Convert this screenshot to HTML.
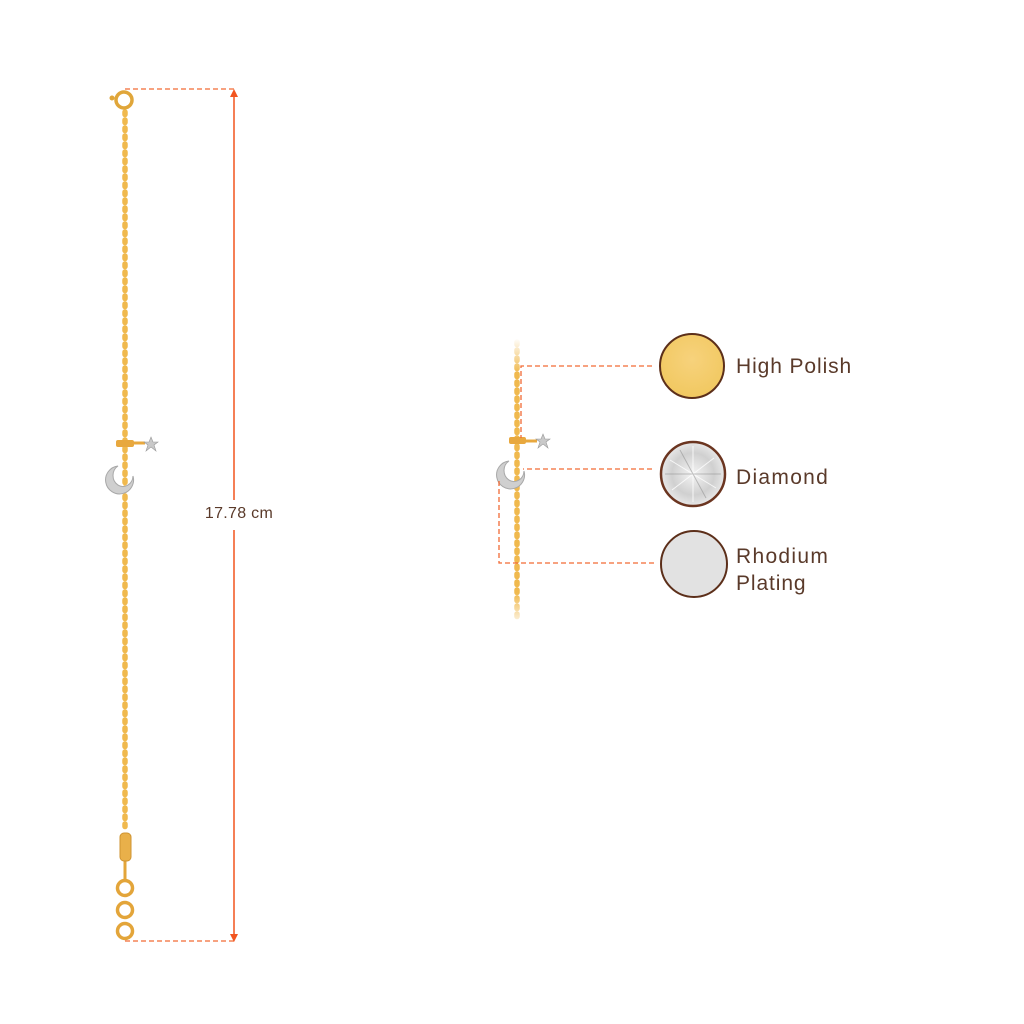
<!DOCTYPE html>
<html><head><meta charset="utf-8"><style>
html,body{margin:0;padding:0;background:#fff;}
svg{display:block;}
text{font-family:"Liberation Sans",sans-serif;}
</style></head><body>
<svg width="1024" height="1024" viewBox="0 0 1024 1024" xmlns="http://www.w3.org/2000/svg">
<defs>
<linearGradient id="fade" x1="0" y1="0" x2="0" y2="1">
<stop offset="0" stop-color="#fff" stop-opacity="1"/>
<stop offset="0.12" stop-color="#fff" stop-opacity="0"/>
<stop offset="0.88" stop-color="#fff" stop-opacity="0"/>
<stop offset="1" stop-color="#fff" stop-opacity="1"/>
</linearGradient>
<radialGradient id="gold" cx="0.5" cy="0.4" r="0.6"><stop offset="0" stop-color="#f7d27c"/><stop offset="1" stop-color="#f1c860"/></radialGradient>
<radialGradient id="dia" cx="0.5" cy="0.5" r="0.55"><stop offset="0" stop-color="#f4f4f4"/><stop offset="0.6" stop-color="#d0d0d0"/><stop offset="1" stop-color="#efefef"/></radialGradient>
</defs>

<!-- left chain -->
<line x1="125" y1="112" x2="125" y2="832" stroke="#f0b94e" stroke-width="5.5" stroke-dasharray="2.5 5.5" stroke-linecap="round"/>
<line x1="125" y1="861" x2="125" y2="882" stroke="#e3a53a" stroke-width="3"/>
<!-- clasp -->
<circle cx="124" cy="100" r="8" fill="none" stroke="#e0a63a" stroke-width="3.5"/>
<circle cx="112" cy="98" r="2.5" fill="#e0a63a"/>
<!-- charm left -->
<rect x="116" y="440" width="18" height="7" rx="2" fill="#e8a83e"/>
<line x1="134" y1="443" x2="145" y2="443" stroke="#e8a83e" stroke-width="3"/>
<polygon points="151,437 153,442 158,442 154,445 156,451 151,447 146,451 148,445 144,442 149,442" fill="#c9c9c9" stroke="#999" stroke-width="0.6"/>
<path d="M118 466 A14 14 0 1 0 133 476 A10 11 0 1 1 118 466 Z" fill="#cfcfcf" stroke="#a8a8a8" stroke-width="1"/>
<!-- bottom tag & rings -->
<rect x="120" y="833" width="11" height="28" rx="4" fill="#e9b04a" stroke="#cf9330"/>
<circle cx="125" cy="888" r="7.5" fill="none" stroke="#e3a53a" stroke-width="3.5"/>
<circle cx="125" cy="910" r="7.5" fill="none" stroke="#e3a53a" stroke-width="3.5"/>
<circle cx="125" cy="931" r="7.5" fill="none" stroke="#e3a53a" stroke-width="3.5"/>

<!-- dimension -->
<line x1="125" y1="89" x2="234" y2="89" stroke="#f26a35" stroke-width="1.3" stroke-dasharray="5 3"/>
<line x1="125" y1="941" x2="234" y2="941" stroke="#f26a35" stroke-width="1.3" stroke-dasharray="5 3"/>
<line x1="234" y1="92" x2="234" y2="500" stroke="#f2551f" stroke-width="1.5"/>
<line x1="234" y1="530" x2="234" y2="937" stroke="#f2551f" stroke-width="1.5"/>
<polygon points="234,89 230,97 238,97" fill="#f2551f"/>
<polygon points="234,942 230,934 238,934" fill="#f2551f"/>
<text x="239" y="518" font-size="16" fill="#5a3a2a" text-anchor="middle" letter-spacing="0.3">17.78 cm</text>

<!-- right chain -->
<line x1="517" y1="342" x2="517" y2="622" stroke="#f0b94e" stroke-width="5.5" stroke-dasharray="2.5 5.5" stroke-linecap="round"/>
<rect x="509" y="338" width="16" height="290" fill="url(#fade)"/>
<rect x="509" y="437" width="17" height="7" rx="2" fill="#e8a83e"/>
<line x1="526" y1="441" x2="537" y2="441" stroke="#e8a83e" stroke-width="3"/>
<polygon points="543,434 545,439 550,439 546,442 548,448 543,444 538,448 540,442 536,439 541,439" fill="#c9c9c9" stroke="#999" stroke-width="0.6"/>
<path d="M509 461 A14 14 0 1 0 524 471 A10 11 0 1 1 509 461 Z" fill="#cfcfcf" stroke="#a8a8a8" stroke-width="1"/>

<!-- leaders -->
<g stroke="#f26a35" stroke-width="1.3" stroke-dasharray="5 3" fill="none">
<polyline points="652,366 521,366 521,438"/>
<polyline points="652,469 523,469"/>
<polyline points="654,563 499,563 499,480"/>
</g>

<!-- swatches -->
<circle cx="692" cy="366" r="32" fill="url(#gold)" stroke="#5c2f1a" stroke-width="2"/>
<circle cx="693" cy="474" r="32" fill="url(#dia)" stroke="#6b3520" stroke-width="2.5"/>
<g stroke="#fff" stroke-width="1" opacity="0.8">
<line x1="670" y1="460" x2="716" y2="488"/><line x1="672" y1="490" x2="714" y2="458"/><line x1="693" y1="446" x2="693" y2="502"/>
</g>
<g stroke="#8a8a8a" stroke-width="1" opacity="0.5">
<line x1="665" y1="474" x2="721" y2="474"/><line x1="680" y1="450" x2="706" y2="498"/>
</g>
<circle cx="694" cy="564" r="33" fill="#e2e2e2" stroke="#5c2f1a" stroke-width="2"/>

<g font-size="21" fill="#5a3a2a" letter-spacing="0.9">
<text x="736" y="373">High Polish</text>
<text x="736" y="484" letter-spacing="1.3">Diamond</text>
<text x="736" y="563" letter-spacing="1.3">Rhodium</text>
<text x="736" y="590">Plating</text>
</g>
</svg>
</body></html>
